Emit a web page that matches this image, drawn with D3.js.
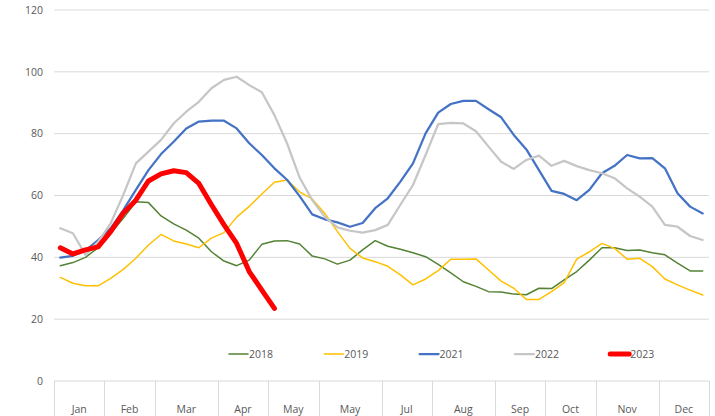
<!DOCTYPE html>
<html>
<head>
<meta charset="utf-8">
<script src="https://cdn.jsdelivr.net/npm/d3@7"></script>
<style>
  body { margin: 0; background: #fff; }
  svg { display: block; font-family: "Open Sans", "Liberation Sans", sans-serif; }
</style>
</head>
<body>
<div id="chart"></div>
<script>
// weekly data, months grouped by number of weeks
const months     = ["Jan", "Feb", "Mar", "Apr", "May", "May", "Jul", "Aug", "Sep", "Oct", "Nov", "Dec"];
const monthWeeks = [4, 4, 5, 4, 4, 5, 4, 5, 4, 4, 5, 4];
const yTicks     = [0, 20, 40, 60, 80, 100, 120];

const s2018 = [37.3, 38.3, 40, 43.1, 47.8, 52.6, 58, 57.7, 53.4, 50.8, 48.8, 46.2, 41.8, 38.8, 37.3, 39.1, 44.2, 45.3, 45.4, 44.3, 40.4, 39.5, 37.8, 39.1, 42.4, 45.4, 43.6, 42.6, 41.5, 40.2, 37.7, 35, 32.1, 30.6, 28.9, 28.8, 28.1, 27.9, 30, 29.9, 32.7, 35.4, 39.1, 43.1, 43.1, 42.2, 42.4, 41.5, 40.8, 38.1, 35.6, 35.6];
const s2019 = [33.5, 31.6, 30.8, 30.8, 33.2, 36.1, 39.7, 44, 47.4, 45.3, 44.3, 43.1, 46.2, 48, 53, 56.5, 60.5, 64.3, 65, 61.2, 58.9, 54.2, 48.3, 42.9, 39.8, 38.6, 37.1, 34.3, 31.1, 33, 35.7, 39.4, 39.4, 39.5, 35.9, 32.3, 30, 26.4, 26.4, 28.9, 31.8, 39.4, 41.8, 44.5, 42.9, 39.4, 39.7, 37, 33, 31.1, 29.4, 27.8];
const s2021 = [39.9, 40.5, 42.2, 45.6, 49.4, 55.3, 61.8, 68.2, 73.4, 77.4, 81.7, 83.9, 84.2, 84.2, 81.7, 76.9, 73.1, 68.8, 65.1, 59.8, 53.9, 52.3, 51.3, 49.9, 51.1, 55.9, 59.1, 64.5, 70.4, 80.1, 86.8, 89.6, 90.6, 90.6, 87.9, 85.3, 79.6, 74.9, 68.2, 61.5, 60.5, 58.5, 61.8, 67.2, 69.6, 73.1, 72, 72.1, 68.8, 60.7, 56.4, 54.2];
const s2022 = [49.4, 47.8, 40.8, 45, 51, 60.2, 70.4, 74.2, 78, 83.3, 87.1, 90.3, 94.7, 97.4, 98.4, 95.7, 93.4, 86, 76.9, 65.8, 58.5, 53.1, 49.7, 48.6, 48, 48.8, 50.5, 57, 63.4, 73.1, 83.1, 83.5, 83.3, 80.8, 75.8, 70.9, 68.6, 71.5, 72.9, 69.6, 71.2, 69.5, 68.2, 67.2, 65.6, 62.3, 59.6, 56.4, 50.5, 49.9, 46.9, 45.6];
const s2023 = [43.1, 41.1, 42.4, 43.4, 48.3, 54.3, 58.5, 64.7, 67, 68, 67.4, 63.9, 57, 50.5, 44.5, 35.4, 29.4, 23.5];

const series = [
  { name: "2018", values: s2018, color: "#548235", width: 1.5 },
  { name: "2019", values: s2019, color: "#FFC000", width: 1.5 },
  { name: "2021", values: s2021, color: "#4472C4", width: 2.25 },
  { name: "2022", values: s2022, color: "#C6C6C6", width: 2.25 },
  { name: "2023", values: s2023, color: "#FF0000", width: 5 },
];

const W = 715, H = 416;
const margin = { top: 10, right: 6, bottom: 35, left: 54 };

const svg = d3.select("#chart").append("svg")
  .attr("width", W).attr("height", H);

const nWeeks = d3.sum(monthWeeks);
const x = d3.scaleBand()
  .domain(d3.range(nWeeks))
  .range([margin.left, W - margin.right])
  .padding(0);
const y = d3.scaleLinear().domain([0, 120]).range([H - margin.bottom, margin.top]);
const cx = i => x(i) + x.bandwidth() / 2;

// gridlines
svg.append("g").selectAll("line").data(yTicks).enter().append("line")
  .attr("x1", margin.left).attr("x2", W - margin.right)
  .attr("y1", d => y(d)).attr("y2", d => y(d))
  .attr("stroke", "#d9d9d9").attr("stroke-width", 1);

svg.append("g").selectAll("text").data(yTicks).enter().append("text")
  .attr("x", 43).attr("y", d => y(d)).attr("dy", "0.35em")
  .attr("text-anchor", "end")
  .attr("font-size", 10.5).attr("fill", "#595959")
  .text(d => d);

// category axis: month groups with separators
const starts = monthWeeks.map((_, i) => d3.sum(monthWeeks.slice(0, i)));
const edges = starts.map(s => x(s)).concat([x(nWeeks - 1) + x.bandwidth()]);

svg.append("g").selectAll("line").data(edges).enter().append("line")
  .attr("x1", d => Math.round(d) + 0.5).attr("x2", d => Math.round(d) + 0.5)
  .attr("y1", y(0)).attr("y2", H)
  .attr("stroke", "#d9d9d9").attr("stroke-width", 1);

svg.append("g").selectAll("text").data(months).enter().append("text")
  .attr("x", (d, i) => (edges[i] + edges[i + 1]) / 2)
  .attr("y", 413)
  .attr("text-anchor", "middle")
  .attr("font-size", 10.5).attr("fill", "#595959")
  .text(d => d);

// lines
const line = d3.line().x((d, i) => cx(i)).y(d => y(d));

svg.append("g").selectAll("path").data(series).enter().append("path")
  .attr("d", d => line(d.values))
  .attr("fill", "none")
  .attr("stroke", d => d.color)
  .attr("stroke-width", d => d.width)
  .attr("stroke-linejoin", "round")
  .attr("stroke-linecap", "round");

// legend
const legend = svg.append("g").attr("transform", "translate(229,354)");
const item = legend.selectAll("g").data(series).enter().append("g")
  .attr("transform", (d, i) => `translate(${i * 95.3},0)`);
item.append("line")
  .attr("x1", 0).attr("x2", 19)
  .attr("stroke", d => d.color)
  .attr("stroke-width", d => d.width)
  .attr("stroke-linecap", "round");
item.append("text")
  .attr("x", 20).attr("dy", "0.35em")
  .attr("font-size", 10.5).attr("fill", "#595959")
  .text(d => d.name);
</script>
</body>
</html>
